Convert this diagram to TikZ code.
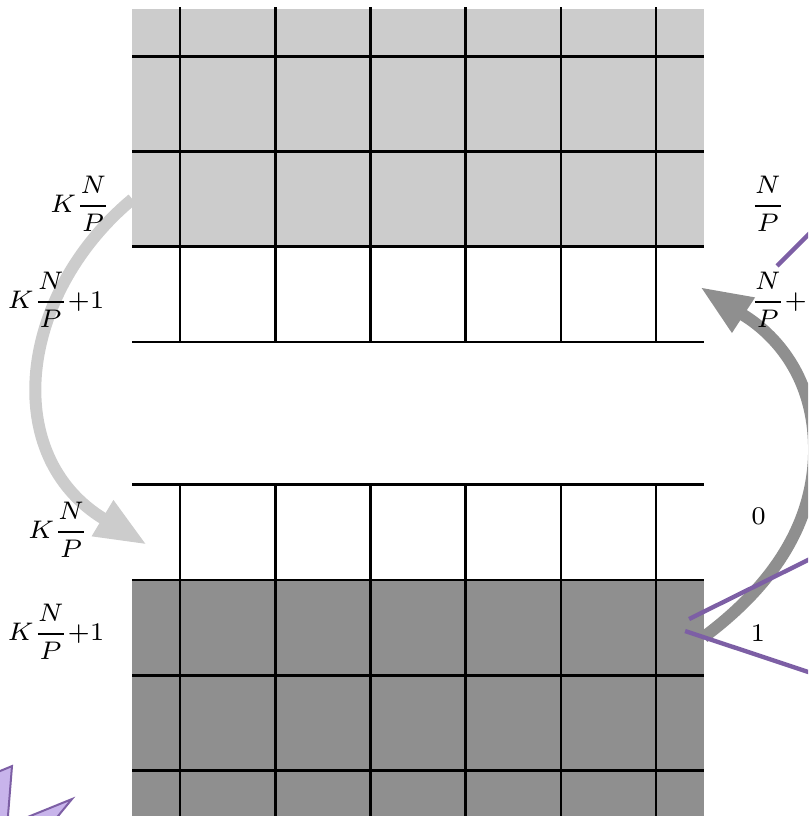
\documentclass[tikz,border=0pt]{standalone}
\usepackage{fix-cm}
\usetikzlibrary{arrows.meta}
\definecolor{lightfill}{gray}{0.8}
\definecolor{darkfill}{gray}{0.56}
\definecolor{violetline}{RGB}{125,95,165}
\definecolor{violetfill}{RGB}{200,180,235}
\tikzset{
  gridline/.style={line width=0.8pt},
  movearrow/.style={line width=3.6pt,-{Triangle[length=15.5pt,width=11.5pt]}},
  idx/.style={font=\fontsize{7.6}{9}\selectfont, inner sep=0pt},
  calloutline/.style={violetline, line width=1.3pt}
}
\begin{document}
\begin{tikzpicture}
  \useasboundingbox (-0.891,-0.979) rectangle (7.597,7.592);
  \clip (-0.891,-0.979) rectangle (7.597,7.592);
  % Shaded rows
  \fill[lightfill] (0.5,5) rectangle (6.5,7.5);
  \fill[darkfill] (0.5,-1.2) rectangle (6.5,1.5);
  % Upper block
  \foreach \y in {4,...,7} \draw[gridline] (0.5,\y) -- (6.5,\y);
  \foreach \x in {1,...,6} \draw[gridline] (\x,4) -- (\x,7.52);
  % Lower block
  \foreach \y in {2.5,1.5,0.5,-0.5} \draw[gridline] (0.5,\y) -- (6.5,\y);
  \foreach \x in {1,...,6} \draw[gridline] (\x,2.5) -- (\x,-1.2);
  % Arrow ends
  \coordinate (sendL) at (0.5,5.5);
  \coordinate (recvL) at (0.653,1.87);
  \coordinate (sendR) at (6.5,0.9);
  \coordinate (turnR) at (7.66,2.87);
  \coordinate (recvR) at (6.462,4.578);
  % Transfers
  \draw[movearrow, lightfill] (sendL) .. controls (-0.7,4.5) and (-0.9,2.8) .. (recvL);
  \draw[movearrow, darkfill] (sendR) .. controls (7.4,1.57) and (7.66,2.27) .. (turnR)
    .. controls (7.66,3.87) and (6.965,4.251) .. (recvR);
  % Highlight shapes
  \filldraw[violetfill, draw=violetline, line width=0.6pt]
    (-1.1,-0.593) -- (-0.765,-0.455) -- (-0.825,-1.2) -- (-1.1,-1.2) -- cycle;
  \filldraw[violetfill, draw=violetline, line width=0.6pt]
    (-1.118,-1.2) -- (-0.135,-0.801) -- (-0.463,-1.2) -- cycle;
  \draw[calloutline] (7.271,4.798) -- (7.9,5.43);
  \draw[calloutline] (6.347,1.090) -- (8.0,1.91);
  \draw[calloutline] (6.305,0.964) -- (8.0,0.40);
  % Row indices
  \node[idx] (upA) at (-0.05,5.45) {$\displaystyle K\frac{N}{P}$};
  \node[idx] (upB) at (-0.303,4.441) {$\displaystyle K\frac{N}{P}{+}1$};
  \node[idx] (lowA) at (-0.282,2.025) {$\displaystyle K\frac{N}{P}$};
  \node[idx] (lowB) at (-0.303,0.954) {$\displaystyle K\frac{N}{P}{+}1$};
  \node[idx, anchor=west] (rightA) at (6.99,5.45) {$\displaystyle \frac{N}{P}$};
  \node[idx, anchor=west] (rightB) at (6.99,4.441) {$\displaystyle \frac{N}{P}{+}1$};
  \node[idx] (zero) at (7.077,2.172) {$0$};
  \node[idx] (one) at (7.07,0.943) {$1$};
\end{tikzpicture}
\end{document}
